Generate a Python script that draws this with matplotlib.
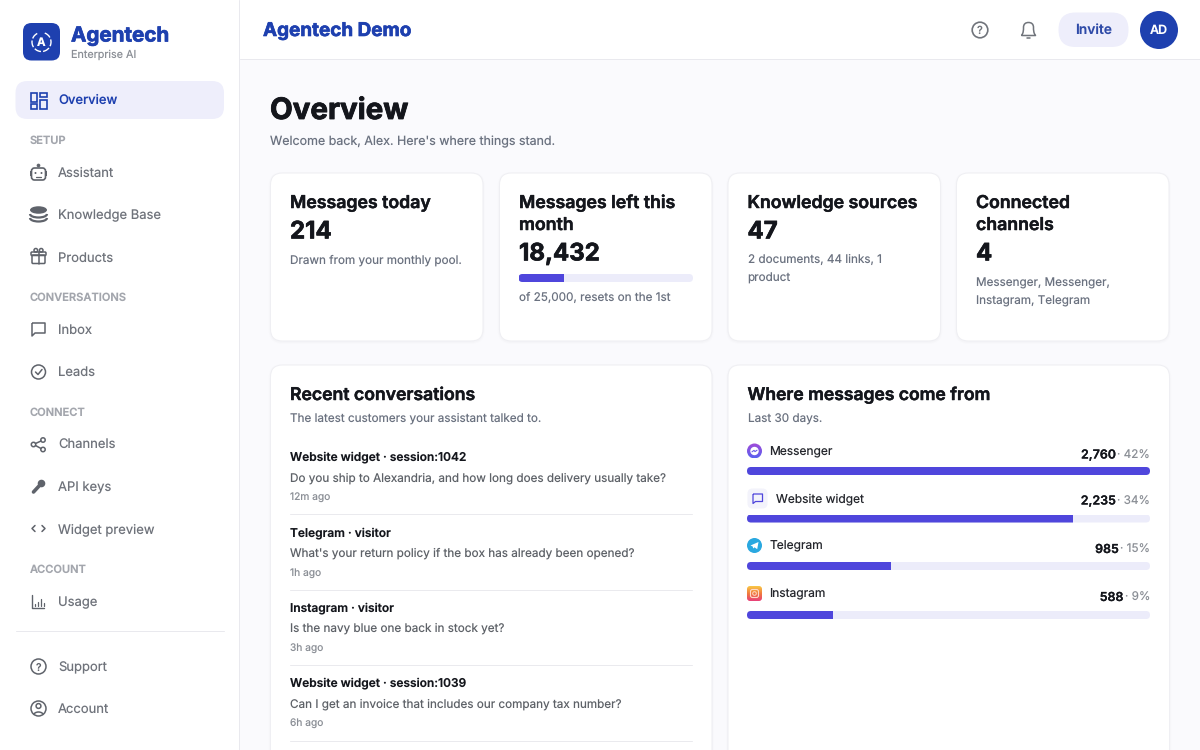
import numpy as np
import matplotlib
matplotlib.use("Agg")
import matplotlib.pyplot as plt
import matplotlib.patheffects as pe
from matplotlib.patches import FancyBboxPatch, Circle, Polygon, Rectangle, Ellipse, Arc, PathPatch
from matplotlib.path import Path
from matplotlib.colors import LinearSegmentedColormap

plt.rcParams["text.hinting"] = "no_hinting"
plt.rcParams["text.hinting_factor"] = 1

# ---------- data ----------
brand = "Agentech"
brand_sub = "Enterprise AI"
workspace = "Agentech Demo"
nav_sections = ["SETUP", "CONVERSATIONS", "CONNECT", "ACCOUNT"]
nav_items = ["Overview", "Assistant", "Knowledge Base", "Products", "Inbox", "Leads",
             "Channels", "API keys", "Widget preview", "Usage", "Support", "Account"]
stat_titles = [["Messages today"], ["Messages left this", "month"], ["Knowledge sources"], ["Connected", "channels"]]
stat_values = ["214", "18,432", "47", "4"]
stat_notes = [["Drawn from your monthly pool."], ["of 25,000, resets on the 1st"],
              ["2 documents, 44 links, 1", "product"], ["Messenger, Messenger,", "Instagram, Telegram"]]
messages_left = 18432
monthly_pool = 25000
conv_sources = ["Website widget · session:1042", "Telegram · visitor", "Instagram · visitor", "Website widget · session:1039"]
conv_texts = ["Do you ship to Alexandria, and how long does delivery usually take?",
              "What's your return policy if the box has already been opened?",
              "Is the navy blue one back in stock yet?",
              "Can I get an invoice that includes our company tax number?"]
conv_times = ["12m ago", "1h ago", "3h ago", "6h ago"]
channels = ["Messenger", "Website widget", "Telegram", "Instagram"]
channel_counts = [2760, 2235, 985, 588]
channel_shares = [42, 34, 15, 9]

# ---------- colours ----------
NAVY = "#1E40AF"; INDIGO = "#4F46DC"; TRACK = "#ECECFA"; PILL = "#EEEEFB"
INK = "#14161C"; GREY = "#6B7280"; LGREY = "#A3A6AD"; NAVTXT = "#6F737B"; ICON = "#5F636B"
BG = "#FAFAFD"; LINE = "#E9E9EE"
F = "Inter"

fig = plt.figure(figsize=(12, 7.5), dpi=100, facecolor=BG)
ax = fig.add_axes([0, 0, 1, 1])
ax.set_xlim(0, 1200); ax.set_ylim(750, 0); ax.axis("off")

def T(x, y, s, px, w="normal", c=INK, ha="left", z=5, bold=0):
    t = ax.text(x, y, s, fontsize=px * 0.72, fontweight=w, color=c, ha=ha, va="baseline", family=F, zorder=z)
    if bold:
        t.set_path_effects([pe.withStroke(linewidth=bold, foreground=c)])
    return t

def RR(x0, y0, x1, y1, r, fc="none", ec="none", lw=0, z=2, add=True):
    p = FancyBboxPatch((x0 + r, y0 + r), x1 - x0 - 2 * r, y1 - y0 - 2 * r,
                       boxstyle=f"round,pad={r},rounding_size={r}", fc=fc, ec=ec, lw=lw, zorder=z,
                       transform=ax.transData)
    if add:
        ax.add_patch(p)
    return p

def L(xs, ys, c=ICON, lw=1.1, z=6):
    ax.plot(xs, ys, color=c, lw=lw, solid_capstyle="round", solid_joinstyle="round", zorder=z)

def C(x, y, r, fc="none", ec=ICON, lw=1.1, z=6):
    ax.add_patch(Circle((x, y), r, fc=fc, ec=ec, lw=lw, zorder=z))

# page regions
ax.add_patch(Rectangle((0, 0), 239, 750, fc="white", ec="none", zorder=1))
ax.add_patch(Rectangle((239, 0), 961, 59, fc="white", ec="none", zorder=1))
L([239, 239], [0, 750], c=LINE, lw=0.72, z=3)
L([240, 1200], [59, 59], c=LINE, lw=0.72, z=3)

# logo
RR(23, 23, 60, 60.5, 8.5, fc=NAVY, z=3)
ax.add_patch(Arc((41.5, 42), 19, 19, theta1=-70, theta2=250, ec="white", lw=1.0, ls=(0, (5, 1.5)), zorder=6))
T(41.5, 46.5, "A", 11.5, "bold", "white", "center", 7)
T(71, 41.5, brand, 20.6, "bold", NAVY, bold=0.5)
T(71, 57.5, brand_sub, 10.8, "normal", "#8B8F96")

# nav
RR(15.5, 81, 224, 119, 12, fc=PILL, z=2)
nav_y = [99.5, 172.5, 214.5, 257, 329.5, 371.5, 444.6, 486.5, 528.3, 601.5, 666.6, 708.3]
sec_y = [144, 301, 415.5, 573]
for s, y in zip(nav_sections, sec_y):
    T(30, y, s, 11.1, "semibold", LGREY)
for i, (s, y) in enumerate(zip(nav_items, nav_y)):
    T(58, y + 4.6, s, 13, "medium" if i == 0 else "normal", NAVY if i == 0 else NAVTXT)
L([16, 223.5], [631, 631], c=LINE, lw=0.72)

# nav icons
c = NAVY
for (a, b, w, h) in [(30.5, 92.5, 6.5, 9), (40, 92.5, 6.5, 4.5), (40, 100, 6.5, 8.5), (30.5, 104, 6.5, 4.5)]:
    ax.add_patch(Rectangle((a, b), w, h, fc="none", ec=c, lw=1.2, zorder=6))
# assistant
RR(31.5, 168, 45.5, 180, 3, fc="none", ec=ICON, lw=1.2, z=6)
C(38.5, 165.5, 1.5, fc=ICON, lw=0.5)
C(35.5, 173, 1, fc=ICON, lw=0); C(41.5, 173, 1, fc=ICON, lw=0)
L([36, 41], [176.5, 176.5], lw=0.9)
ax.add_patch(Rectangle((30, 171), 1.5, 5, fc=ICON, zorder=6)); ax.add_patch(Rectangle((45.5, 171), 1.5, 5, fc=ICON, zorder=6))
# knowledge base
ax.add_patch(Ellipse((38.5, 210), 17, 7.5, fc=ICON, zorder=6))
for yy in (215, 219):
    ax.add_patch(Arc((38.5, yy - 1), 17, 7, theta1=0, theta2=180, ec=ICON, lw=1.6, zorder=6))
# products (gift)
RR(32, 255, 45, 263.5, 1, ec=ICON, lw=1.1, z=6)
RR(31, 252, 46, 255.5, 1, ec=ICON, lw=1.1, z=6)
L([38.5, 38.5], [252, 263.5])
C(35.8, 250.3, 1.8); C(41.2, 250.3, 1.8)
# inbox
ax.add_patch(PathPatch(Path([(32, 323), (45, 323), (45, 333), (35, 333), (32, 336), (32, 323)]), fc="none", ec=ICON, lw=1.1, zorder=6, joinstyle="round"))
# leads
C(38.5, 372, 7)
L([35.5, 38, 42], [372, 374.5, 369.5])
# channels
C(33.5, 444.5, 2.2); C(43, 440, 2.2); C(43, 449.5, 2.2)
L([35.5, 41], [443.5, 441]); L([35.5, 41], [445.5, 448.5])
# api keys
C(41.5, 483.5, 3.8, fc=ICON, lw=0)
L([39.5, 33.5], [485.5, 492], lw=2.6)
# widget preview
L([35, 32, 35], [525.5, 528.5, 531.5], lw=1.1); L([42, 45, 42], [525.5, 528.5, 531.5], lw=1.1)
# usage
L([31.5, 31.5, 44], [595, 608, 608], lw=1.0)
for xx, yy in [(34.5, 604), (37.5, 602), (40.5, 599), (43.5, 603)]:
    L([xx, xx], [yy, 606], lw=0.9)
# support / account
C(38.5, 666.5, 7.5)
T(38.5, 670.5, "?", 10.5, "medium", ICON, "center", 7)
C(38.5, 708.5, 7.5)
C(38.5, 706, 2.4)
ax.add_patch(Arc((38.5, 715.5), 10, 7, theta1=190, theta2=350, ec=ICON, lw=1.1, zorder=6))

# header
T(263, 36, workspace, 18.9, "bold", NAVY, bold=0.45)
C(980, 30, 7.8, ec="#70747B", lw=1.2)
T(980, 34, "?", 11, "medium", "#70747B", "center", 7)
ax.add_patch(PathPatch(Path([(1021.5, 35.5), (1023.5, 33), (1023.5, 30), (1023.5, 27.5),
                             (1023.5, 24), (1025.5, 22.5), (1028.5, 22.5),
                             (1031.5, 22.5), (1033.5, 24), (1033.5, 27.5),
                             (1033.5, 30), (1033.5, 33), (1035.5, 35.5), (1021.5, 35.5)],
                            [1, 4, 4, 4, 4, 4, 4, 4, 4, 4, 4, 4, 4, 2]),
                       fc="none", ec="#70747B", lw=1.1, zorder=6, joinstyle="round"))
L([1027, 1030], [38, 38], c="#70747B", lw=1.1)
RR(1058.5, 12.5, 1128.5, 47, 17, fc=PILL, z=3)
T(1093.3, 34.2, "Invite", 13.8, "semibold", "#2F4BA8", "center")
C(1159, 30, 19, fc=NAVY, ec="none", lw=0)
T(1159, 34.3, "AD", 12.5, "semibold", "white", "center", 7)

# heading
T(270, 119, "Overview", 29.5, "bold", INK, bold=0.6)
T(270, 145.5, "Welcome back, Alex. Here's where things stand.", 12.45, "normal", GREY)

def card(x0, y0, x1, y1):
    for k, al in [(2, .006), (1, .012)]:
        RR(x0 - k, y0 - k + 1, x1 + k, y1 + k + 1, 12 + k, fc="#1E1E50", z=1.5).set_alpha(al)
    RR(x0, y0, x1, y1, 12, fc="white", ec="#EFEFF3", lw=0.72, z=2)

# stat cards
card_x = [270.5, 499.5, 728, 956.5]
card_w = 212.5
for i, x in enumerate(card_x):
    card(x, 173, x + card_w, 341)
    tx = x + 19.5
    y = 208
    for line in stat_titles[i]:
        T(tx, y, line, 17.7, "semibold", INK, bold=0.35)
        y += 22
    y = y - 22 + 30.4
    T(tx, y, stat_values[i], 24, "bold", INK, bold=0.5)
    ny = {0: 263.2, 1: 301, 2: 263.2, 3: 286}[i]
    for line in stat_notes[i]:
        T(tx, ny, line, 11.7, "normal", GREY)
        ny += 18.7

# quota progress bar, on its own axes
def px_axes(x0, y0, x1, y1):
    a = fig.add_axes([x0 / 1200, 1 - y1 / 750, (x1 - x0) / 1200, (y1 - y0) / 750], zorder=4)
    a.axis("off"); a.patch.set_alpha(0)
    return a

qa = px_axes(518.5, 274, 693, 282)
qa.set_xlim(0, monthly_pool); qa.set_ylim(-.5, .5)
track = RR(518.5, 274, 693, 282, 4, add=False)
b = qa.barh([0], [monthly_pool], height=1, color=TRACK)[0]; b.set_clip_path(track)
b = qa.barh([0], [monthly_pool - messages_left], height=1, color=INDIGO)[0]; b.set_clip_path(track)

# lower cards
card(270.5, 365, 712, 790)
card(728, 365, 1169.5, 790)
T(290, 400, "Recent conversations", 17.6, "semibold", INK, bold=0.35)
T(290, 422, "The latest customers your assistant talked to.", 11.7, "normal", GREY)
T(747.5, 400, "Where messages come from", 17.5, "semibold", INK, bold=0.35)
T(747.5, 422.6, "Last 30 days.", 11.7, "normal", GREY)

conv_y = [460.8, 536, 611.8, 686.8]
for s, q, t, y in zip(conv_sources, conv_texts, conv_times, conv_y):
    T(290, y, s, 11.95, "semibold", INK)
    T(290, y + 20.2, q, 11.7, "normal", "#5E6268")
    T(290, y + 39.5, t, 10.2, "normal", "#8B8F96")
for y in [513.5, 589.5, 665, 740.5]:
    L([290, 692], [y, y], c="#EAEAEE", lw=0.72)

# channel rows
label_x = [769.5, 775.5, 769.5, 769.5]
label_y = [455, 502.4, 549.4, 597.4]
num_y = [458.5, 504.5, 553, 601]
icon_y = [451, 498.5, 545.5, 593.5]
bar_y = [471, 518.5, 566, 615]
grad1 = LinearSegmentedColormap.from_list("m", ["#A24BD8", "#5A60F0"])
grad2 = LinearSegmentedColormap.from_list("i", ["#E8407A", "#F07A3C", "#F9C846"])
R = fig.canvas.get_renderer()
for i, name in enumerate(channels):
    T(label_x[i], label_y[i], name, 12, "normal", "#25272D")
    pct = T(1150, num_y[i], f"· {channel_shares[i]}%", 11.7, "normal", "#8B8F96", "right")
    x_left = ax.transData.inverted().transform(pct.get_window_extent(R))[0][0]
    T(x_left - 1.2, num_y[i], f"{channel_counts[i]:,}", 12.4, "semibold", INK, "right", bold=0.15)
    a = px_axes(747, bar_y[i] - 4, 1150, bar_y[i] + 4)
    a.set_xlim(0, max(channel_counts)); a.set_ylim(-.5, .5)
    track = RR(747, bar_y[i] - 4, 1150, bar_y[i] + 4, 4, add=False)
    b = a.barh([0], [max(channel_counts)], height=1, color=TRACK)[0]; b.set_clip_path(track)
    b = a.barh([0], [channel_counts[i]], height=1, color=INDIGO)[0]; b.set_clip_path(track)

# channel icons
yy = icon_y[0]
g = np.linspace(0, 1, 64).reshape(-1, 1)
im = ax.imshow(g, cmap=grad1, extent=(747, 762, yy + 7.5, yy - 7.5), aspect="auto", zorder=6)
im.set_clip_path(Circle((754.5, yy), 7.5, transform=ax.transData))
C(754.5, yy, 4.2, fc="white", ec="none", lw=0, z=7)
L([752, 754, 755, 757], [yy + .8, yy - .6, yy + .6, yy - .8], c="#6A5BE8", lw=0.8, z=8)
yy = icon_y[1]
RR(747.5, yy - 10, 767.5, yy + 10, 5, fc="#F3F3FB", z=5)
ax.add_patch(PathPatch(Path([(753, yy - 4.5), (762.5, yy - 4.5), (762.5, yy + 3), (755.5, yy + 3), (753, yy + 5), (753, yy - 4.5)]),
                       fc="none", ec=INDIGO, lw=0.9, zorder=6, joinstyle="round"))
yy = icon_y[2]
C(754.5, yy, 7.5, fc="#2AA8E0", ec="none", lw=0)
ax.add_patch(Polygon([(750.5, yy), (758.5, yy - 3.5), (757.2, yy + 3.7), (754.5, yy + 1.8), (753.2, yy + 3), (752.7, yy + 1)], fc="white", zorder=7))
yy = icon_y[3]
g2 = np.linspace(1, 0, 64).reshape(-1, 1)
im = ax.imshow(g2, cmap=grad2, extent=(747, 762, yy + 7.5, yy - 7.5), aspect="auto", zorder=6)
im.set_clip_path(RR(747, yy - 7.5, 762, yy + 7.5, 3, add=False))
RR(750.5, yy - 4, 758.5, yy + 4, 2, ec="#FFD9C8", lw=0.8, z=7)
C(754.5, yy, 1.8, ec="#FFD9C8", lw=0.7, z=7)

ax.set_xlim(0, 1200); ax.set_ylim(750, 0)
fig.savefig("out.png", dpi=100, facecolor=BG)
